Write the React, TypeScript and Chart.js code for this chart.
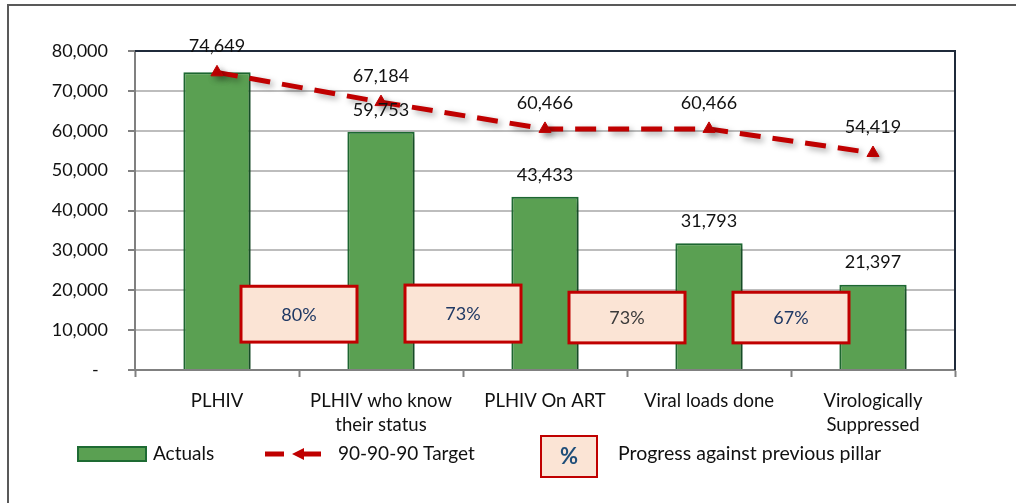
import React, { useEffect, useRef } from 'react';
import { Chart, registerables } from 'chart.js';

Chart.register(...registerables);

const categories: string[][] = [
  ['PLHIV'],
  ['PLHIV who know', 'their status'],
  ['PLHIV On ART'],
  ['Viral loads done'],
  ['Virologically', 'Suppressed'],
];
const actuals = [74649, 59753, 43433, 31793, 21397];
const target = [74649, 67184, 60466, 60466, 54419];
const progressLabels = ['80%', '73%', '73%', '67%'];
const progressTextColors = ['#1f3864', '#1f3864', '#3a3a3a', '#1f3864'];
const progressTop = [21000, 21300, 19500, 19500];
const progressBottom = [7000, 7000, 6800, 6800];
const yMax = 80000;
const yStep = 10000;

const FONT = 'Lato, "Open Sans", sans-serif';
const RED = '#c00000';
const GREEN = '#5aa052';
const GREEN_DARK = '#1e6b33';
const PEACH = '#fbe4d5';
const TEXT = '#111111';

const fmt = (v: number) => v.toLocaleString('en-US');

const shadowPlugin = {
  id: 'shadowPlugin',
  beforeDatasetDraw(chart: any) {
    const c = chart.ctx;
    c.save();
    c.shadowColor = 'rgba(0,0,0,0.35)';
    c.shadowBlur = 6;
    c.shadowOffsetX = 3;
    c.shadowOffsetY = 3;
  },
  afterDatasetDraw(chart: any) {
    chart.ctx.restore();
  },
};

const overlayPlugin = {
  id: 'overlayPlugin',
  afterDatasetsDraw(chart: any) {
    const c = chart.ctx as CanvasRenderingContext2D;
    const area = chart.chartArea;
    const y = chart.scales.y;
    const lineMeta = chart.getDatasetMeta(0);
    const barMeta = chart.getDatasetMeta(1);

    // plot border top/right
    c.save();
    c.strokeStyle = '#1f2a3a';
    c.lineWidth = 2;
    c.beginPath();
    c.moveTo(area.left, area.top);
    c.lineTo(area.right, area.top);
    c.lineTo(area.right, area.bottom);
    c.stroke();
    c.restore();

    // progress boxes
    c.save();
    for (let i = 0; i < progressLabels.length; i++) {
      const x0 = barMeta.data[i].x;
      const x1 = barMeta.data[i + 1].x;
      const cx = (x0 + x1) / 2;
      const w = 116;
      const top = y.getPixelForValue(progressTop[i]);
      const bot = y.getPixelForValue(progressBottom[i]);
      c.fillStyle = PEACH;
      c.fillRect(cx - w / 2, top, w, bot - top);
      c.strokeStyle = RED;
      c.lineWidth = 3;
      c.strokeRect(cx - w / 2, top, w, bot - top);
      c.fillStyle = progressTextColors[i];
      c.font = `18px ${FONT}`;
      c.textAlign = 'center';
      c.textBaseline = 'middle';
      c.fillText(progressLabels[i], cx, (top + bot) / 2 + 1);
    }
    c.restore();

    // data labels
    c.save();
    c.font = `18px ${FONT}`;
    c.fillStyle = TEXT;
    c.textAlign = 'center';
    c.textBaseline = 'middle';
    barMeta.data.forEach((el: any, i: number) => {
      if (actuals[i] === target[i]) return;
      c.fillText(fmt(actuals[i]), el.x, el.y - 22);
    });
    lineMeta.data.forEach((el: any, i: number) => {
      c.fillText(fmt(target[i]), el.x, el.y - 26);
    });
    c.restore();
  },
  afterDraw(chart: any) {
    const c = chart.ctx as CanvasRenderingContext2D;
    c.save();
    // outer frame (partial)
    c.strokeStyle = '#595959';
    c.lineWidth = 2;
    c.beginPath();
    c.moveTo(8, 503);
    c.lineTo(8, 5);
    c.lineTo(1016, 5);
    c.stroke();

    // legend
    const ly = 454;
    c.font = `19px ${FONT}`;
    c.textBaseline = 'middle';
    c.textAlign = 'left';
    // Actuals
    c.fillStyle = GREEN;
    c.fillRect(78, 447, 68, 14);
    c.strokeStyle = GREEN_DARK;
    c.lineWidth = 2;
    c.strokeRect(78, 447, 68, 14);
    c.fillStyle = TEXT;
    c.fillText('Actuals', 153, ly);
    // Target
    c.strokeStyle = RED;
    c.lineWidth = 5;
    c.beginPath();
    c.moveTo(265, ly);
    c.lineTo(284, ly);
    c.moveTo(302, ly);
    c.lineTo(321, ly);
    c.stroke();
    c.fillStyle = RED;
    c.beginPath();
    c.moveTo(292, ly);
    c.lineTo(304, ly - 6);
    c.lineTo(304, ly + 6);
    c.closePath();
    c.fill();
    c.fillStyle = TEXT;
    c.fillText('90-90-90 Target', 338, ly);
    // Progress box
    c.fillStyle = PEACH;
    c.fillRect(541, 436, 56, 41);
    c.strokeStyle = RED;
    c.lineWidth = 2;
    c.strokeRect(541, 436, 56, 41);
    c.fillStyle = '#1f4e79';
    c.font = `bold 22px ${FONT}`;
    c.textAlign = 'center';
    c.fillText('%', 569, 457);
    c.font = `19.5px ${FONT}`;
    c.textAlign = 'left';
    c.fillStyle = TEXT;
    c.fillText('Progress against previous pillar', 618, ly);
    c.restore();
  },
};

export default function App() {
  const ref = useRef<HTMLCanvasElement>(null);
  useEffect(() => {
    document.body.style.margin = '0';
    const canvas = ref.current!;
    const chart = new Chart(canvas, {
      type: 'bar',
      data: {
        labels: categories,
        datasets: [
          {
            type: 'line',
            label: '90-90-90 Target',
            data: target,
            borderColor: RED,
            backgroundColor: RED,
            borderWidth: 5,
            borderDash: [21, 12],
            pointStyle: 'triangle',
            pointRadius: 7,
            pointBackgroundColor: RED,
            pointBorderColor: RED,
            pointBorderWidth: 1,
            fill: false,
            tension: 0,
            order: 1,
          } as any,
          {
            type: 'bar',
            label: 'Actuals',
            data: actuals,
            backgroundColor: GREEN,
            borderColor: GREEN_DARK,
            borderWidth: 2,
            categoryPercentage: 1,
            barPercentage: 0.41,
            order: 2,
          } as any,
        ],
      },
      options: {
        responsive: false,
        animation: false,
        layout: { padding: { top: 51, right: 61, left: 0, bottom: 0 } },
        plugins: {
          legend: { display: false },
          tooltip: { enabled: false },
        },
        scales: {
          x: {
            offset: true,
            grid: {
              display: true,
              offset: true,
              drawOnChartArea: false,
              drawTicks: true,
              tickLength: 7,
              tickColor: '#808080',
              tickWidth: 2,
            },
            border: { color: '#808080', width: 2 },
            ticks: {
              color: TEXT,
              font: { family: FONT, size: 18.5, lineHeight: 1.3 },
              padding: 12,
              maxRotation: 0,
              autoSkip: false,
            },
            afterFit: (s: any) => {
              s.height = 133;
            },
          },
          y: {
            min: 0,
            max: yMax,
            grid: {
              color: '#bdbdbd',
              lineWidth: 2,
              tickLength: 7,
              tickColor: '#808080',
            },
            border: { color: '#808080', width: 2 },
            ticks: {
              stepSize: yStep,
              color: TEXT,
              font: { family: FONT, size: 18 },
              padding: 20,
              callback: (v: any) => (v === 0 ? '-  ' : fmt(v)),
            },
            afterFit: (s: any) => {
              s.width = 135;
            },
          },
        },
      } as any,
      plugins: [shadowPlugin, overlayPlugin],
    });
    return () => chart.destroy();
  }, []);
  return (
    <div style={{ width: 1016, height: 503, position: 'relative', background: '#fff' }}>
      <canvas ref={ref} width={1016} height={503} style={{ display: 'block', width: 1016, height: 503 }} />
    </div>
  );
}
